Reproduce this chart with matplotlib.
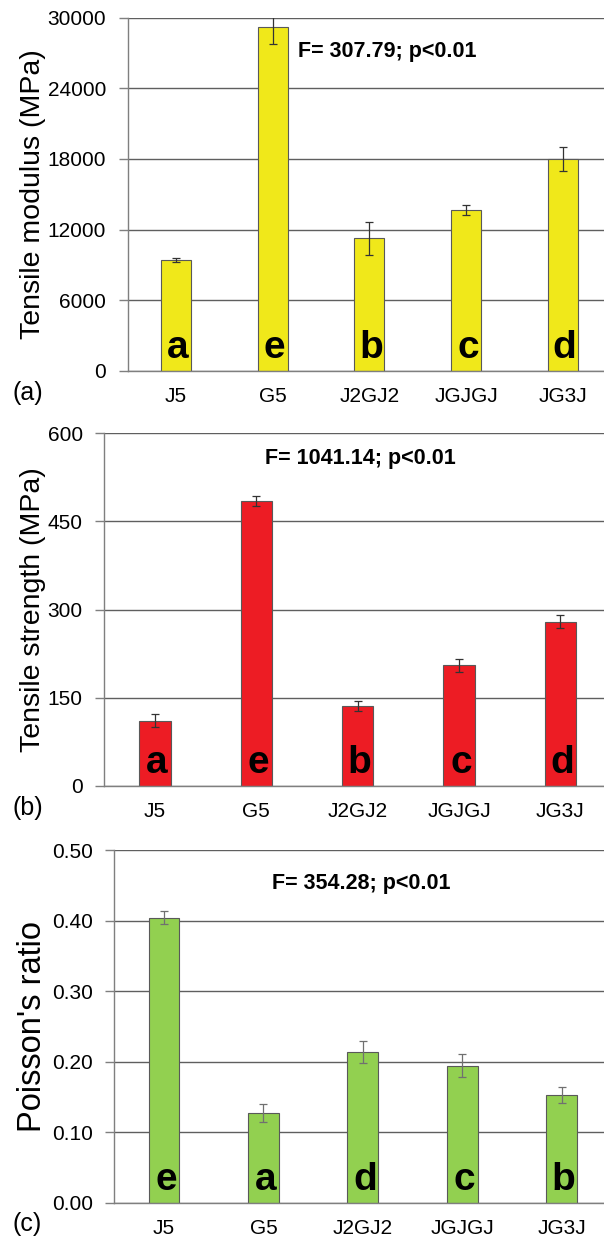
import matplotlib
matplotlib.use("Agg")
import matplotlib.pyplot as plt
from matplotlib.ticker import FormatStrFormatter, MultipleLocator

plt.rcParams["font.family"] = ["Liberation Sans", "DejaVu Sans"]

samples = ["J5", "G5", "J2GJ2", "JGJGJ", "JG3J"]

modulus = [9400, 29200, 11250, 13630, 18000]
modulus_err = [150, 1450, 1380, 440, 1020]
modulus_groups = ["a", "e", "b", "c", "d"]

strength = [111, 485, 135, 205, 279]
strength_err = [10.8, 9, 8.5, 10.8, 11]
strength_groups = ["a", "e", "b", "c", "d"]

poisson = [0.404, 0.127, 0.213, 0.194, 0.153]
poisson_err = [0.0095, 0.0123, 0.0156, 0.0165, 0.0113]
poisson_groups = ["e", "a", "d", "c", "b"]

W, H = 604, 1239
fig = plt.figure(figsize=(W / 100, H / 100), dpi=100)


def px_axes(left, top, right, bottom):
    return fig.add_axes([left / W, 1 - bottom / H, (right - left) / W, (bottom - top) / H])


def panel(ax, vals, errs, groups, color, ymax, step, fmt, ylabel, ylabel_size,
          stat, stat_x, stat_y, tag, tag_y, err_color):
    x = range(len(samples))
    ax.set_axisbelow(True)
    ax.yaxis.grid(True, color="#5f5f5f", linewidth=1.0)
    ax.bar(x, vals, width=0.31, color=color, edgecolor="#595959", linewidth=0.8, zorder=2)
    ax.errorbar(x, vals, yerr=errs, fmt="none", ecolor=err_color, elinewidth=0.9,
                capsize=2.7, capthick=0.9, zorder=3)
    ax.set_xlim(-0.5, len(samples) - 0.5)
    ax.set_ylim(0, ymax)
    ax.yaxis.set_major_locator(MultipleLocator(step))
    ax.yaxis.set_major_formatter(FormatStrFormatter(fmt))
    ax.set_xticks(list(x))
    ax.set_xticklabels(samples)
    ax.tick_params(axis="x", length=0, pad=11.5, labelsize=15)
    ax.tick_params(axis="y", length=6.5, width=1.0, color="#7f7f7f", pad=9,
                   labelsize=15)
    for side in ("top", "right"):
        ax.spines[side].set_visible(False)
    for side in ("left", "bottom"):
        ax.spines[side].set_color("#7f7f7f")
        ax.spines[side].set_linewidth(1.0)
    tr = ax.get_xaxis_transform()
    for i, g in enumerate(groups):
        ax.text(i + 0.02, 0.037, g, transform=tr, ha="center", va="baseline",
                fontsize=28, fontweight="bold", zorder=4)
    ax.text(stat_x, stat_y, stat, transform=tr, ha="center", va="center",
            fontsize=15.5, fontweight="bold")
    bb = ax.get_position()
    fig.text(33 / W, (bb.y0 + bb.y1) / 2, ylabel, rotation=90, ha="center",
             va="center", fontsize=ylabel_size)
    fig.text(27.5 / W, 1 - tag_y / H, tag, ha="center", va="center", fontsize=18)


ax_a = px_axes(127.7, 17.7, 611, 370.7)
panel(ax_a, modulus, modulus_err, modulus_groups, "#f0e81a", 30000, 6000, "%d",
      "Tensile modulus (MPa)", 20.5, "F= 307.79; p<0.01", 2.19, 0.904, "(a)", 393,
      "#333333")

ax_b = px_axes(104.3, 433.3, 611, 785.7)
panel(ax_b, strength, strength_err, strength_groups, "#ed1c24", 600, 150, "%d",
      "Tensile strength (MPa)", 20.5, "F= 1041.14; p<0.01", 2.03, 0.929, "(b)", 808,
      "#333333")

ax_c = px_axes(114.3, 850, 611.3, 1202.7)
panel(ax_c, poisson, poisson_err, poisson_groups, "#92d050", 0.5, 0.1, "%.2f",
      "Poisson's ratio", 23.5, "F= 354.28; p<0.01", 1.98, 0.904, "(c)", 1223.7,
      "#707070")

fig.savefig("out.png", dpi=100)
